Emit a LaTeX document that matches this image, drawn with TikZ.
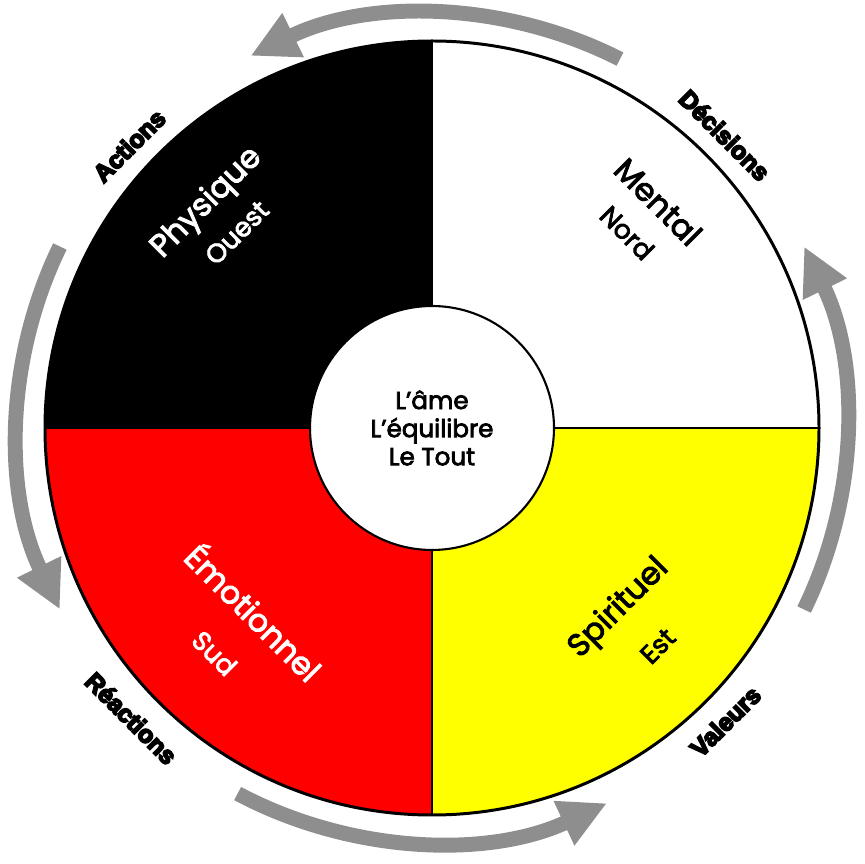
\documentclass[tikz,border=0pt]{standalone}
\usepackage{fontspec}
\usetikzlibrary{arrows.meta}
\newfontfamily\popfont[FakeBold=3]{Poppins}
\newfontfamily\heavyfont[FakeBold=7]{Liberation Sans Bold}
\definecolor{Qred}{HTML}{FF0000}
\definecolor{Qyel}{HTML}{FFFF00}
\definecolor{Qgray}{HTML}{8E8E8E}
\tikzset{
  rim/.style={draw=black, line width=1.7pt},
  axisline/.style={draw=black, line width=0.6pt},
  flow/.style={draw=Qgray, line width=8.5pt, -{Triangle[length=27pt, width=26pt]}},
  mainword/.style={font=\popfont\fontsize{18}{20}\selectfont, inner sep=0pt},
  subword/.style={font=\popfont\fontsize{15}{17}\selectfont, inner sep=0pt},
  cycleword/.style={font=\heavyfont\fontsize{14}{16}\selectfont, inner sep=0pt},
  soulcircle/.style={circle, draw=black, fill=white, line width=1.2pt, minimum size=4.88cm, align=center,
    font=\popfont\fontsize{14}{16}\selectfont},
}
\begin{document}
\begin{tikzpicture}[x=0.02cm, y=0.02cm]
  \useasboundingbox (-432,-436) rectangle (432,428);
  % quadrants
  \foreach \a/\c in {0/white, 90/black, 180/Qred, 270/Qyel}
    \fill[\c] (0,0) -- (\a:387) arc[start angle=\a, end angle=\a+90, radius=387] -- cycle;
  \draw[axisline] (0,-387) -- (0,387);
  \draw[axisline] (-387,0) -- (387,0);
  \draw[rim] (0,0) circle[radius=387];
  % centre
  \node (soul) [soulcircle] at (0,0) {L’âme\\L’équilibre\\Le Tout};
  % cycle arrows
  \foreach \s/\e in {63/116, 154/206, -118/-65, -26/26}
    \draw[flow] (\s:414) arc[start angle=\s, end angle=\e, radius=414];
  % cycle words
  \node (actions) [cycleword, rotate=45] at (137:414) {Actions};
  \node (decisions) [cycleword, rotate=-45] at (45:414) {Décisions};
  \node (reactions) [cycleword, rotate=-45] at (224:418) {Réactions};
  \node (valeurs) [cycleword, rotate=45] at (-45:415) {Valeurs};
  % quadrant words
  \node (physique) [mainword, white, rotate=45] at (135:318) {Physique};
  \node (ouest) [subword, white, rotate=45] at (135:276) {Ouest};
  \node (mental) [mainword, rotate=-45] at (45:320) {Mental};
  \node (nord) [subword, rotate=-45] at (45:276) {Nord};
  \node (emotion) [mainword, white, rotate=-45] at (-134:255) {Émotionnel};
  \node (sud) [subword, white, rotate=-45] at (-134:313) {Sud};
  \node (spirit) [mainword, rotate=45] at (-44:260) {Spirituel};
  \node (est) [subword, rotate=45] at (-44:314) {Est};
\end{tikzpicture}
\end{document}
